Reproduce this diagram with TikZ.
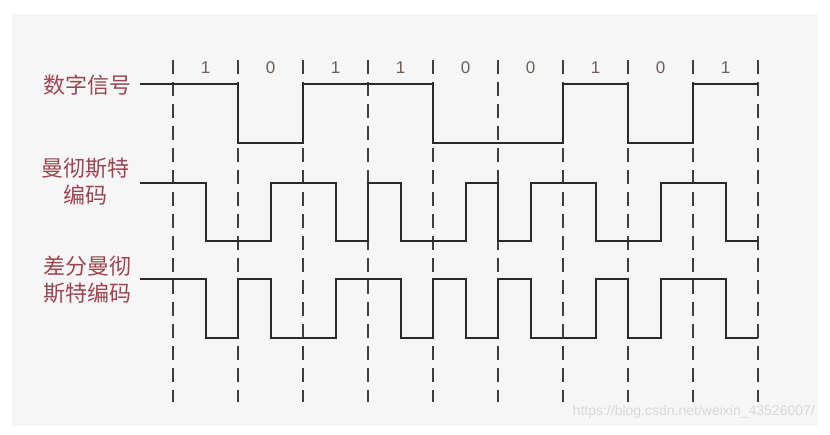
\documentclass[tikz,border=0pt]{standalone}
\usepackage{fontspec}
\setmainfont{Liberation Sans}
\newfontfamily\cjk{Noto Sans CJK SC}
\definecolor{labred}{HTML}{9B4650}
\definecolor{digcol}{HTML}{6E5E56}
\definecolor{bgcol}{HTML}{F6F6F6}
\definecolor{wave}{HTML}{2A2A2A}
\begin{document}
\begin{tikzpicture}[x=1pt,y=-1pt,
  sig/.style={draw=wave,line width=1.8pt,line join=miter},
  bitline/.style={draw=wave!90,line width=1.8pt,dash pattern=on 14pt off 8pt},
  lab/.style={text=labred,font=\cjk\fontsize{22}{27}\selectfont,align=center,inner sep=0pt},
  digit/.style={text=digcol,font=\fontsize{17}{20}\selectfont,inner sep=0pt}]
\useasboundingbox (0,0) rectangle (830,434);
\fill[white] (0,0) rectangle (830,434);
\fill[bgcol] (12,14) rectangle (818,426);
% bit boundaries
\foreach \k in {0,...,9} {
  \coordinate (t\k) at ({173+65*\k},60);
  \coordinate (b\k) at ({173+65*\k},402);
  \draw[bitline] (t\k) -- (b\k);
}
% bit values
\foreach \v [count=\i from 0] in {1,0,1,1,0,0,1,0,1} {
  \node[digit] (d\i) at ({205.5+65*\i},68) {\v};
}
% labels
\node[lab,anchor=east] (l1) at (132,85) {数字信号};
\node[lab] (l2) at (85,182) {曼彻斯特\\编码};
\node[lab] (l3) at (87,280) {差分曼彻\\斯特编码};
% digital signal
\draw[sig] (140,84) -- (238,84) -- (238,143) -- (303,143) -- (303,84) -- (433,84) -- (433,143) -- (563,143) -- (563,84) -- (628,84) -- (628,143) -- (693,143) -- (693,84) -- (758,84);
% Manchester
\draw[sig] (140,183) -- (206,183) -- (206,241) -- (271,241) -- (271,183) -- (336,183) -- (336,241) -- (368,241) -- (368,183) -- (401,183) -- (401,241) -- (466,241) -- (466,183) -- (498,183) -- (498,241) -- (531,241) -- (531,183) -- (596,183) -- (596,241) -- (661,241) -- (661,183) -- (726,183) -- (726,241) -- (758,241);
% differential Manchester
\draw[sig] (140,279) -- (206,279) -- (206,338) -- (238,338) -- (238,279) -- (271,279) -- (271,338) -- (336,338) -- (336,279) -- (401,279) -- (401,338) -- (433,338) -- (433,279) -- (466,279) -- (466,338) -- (498,338) -- (498,279) -- (531,279) -- (531,338) -- (596,338) -- (596,279) -- (628,279) -- (628,338) -- (661,338) -- (661,279) -- (726,279) -- (726,338) -- (758,338);
% watermark
\node[text=gray!30,font=\fontsize{14}{16}\selectfont,anchor=east,inner sep=0pt] (wm) at (815,412) {https://blog.csdn.net/weixin\_43526007/};
\end{tikzpicture}
\end{document}
